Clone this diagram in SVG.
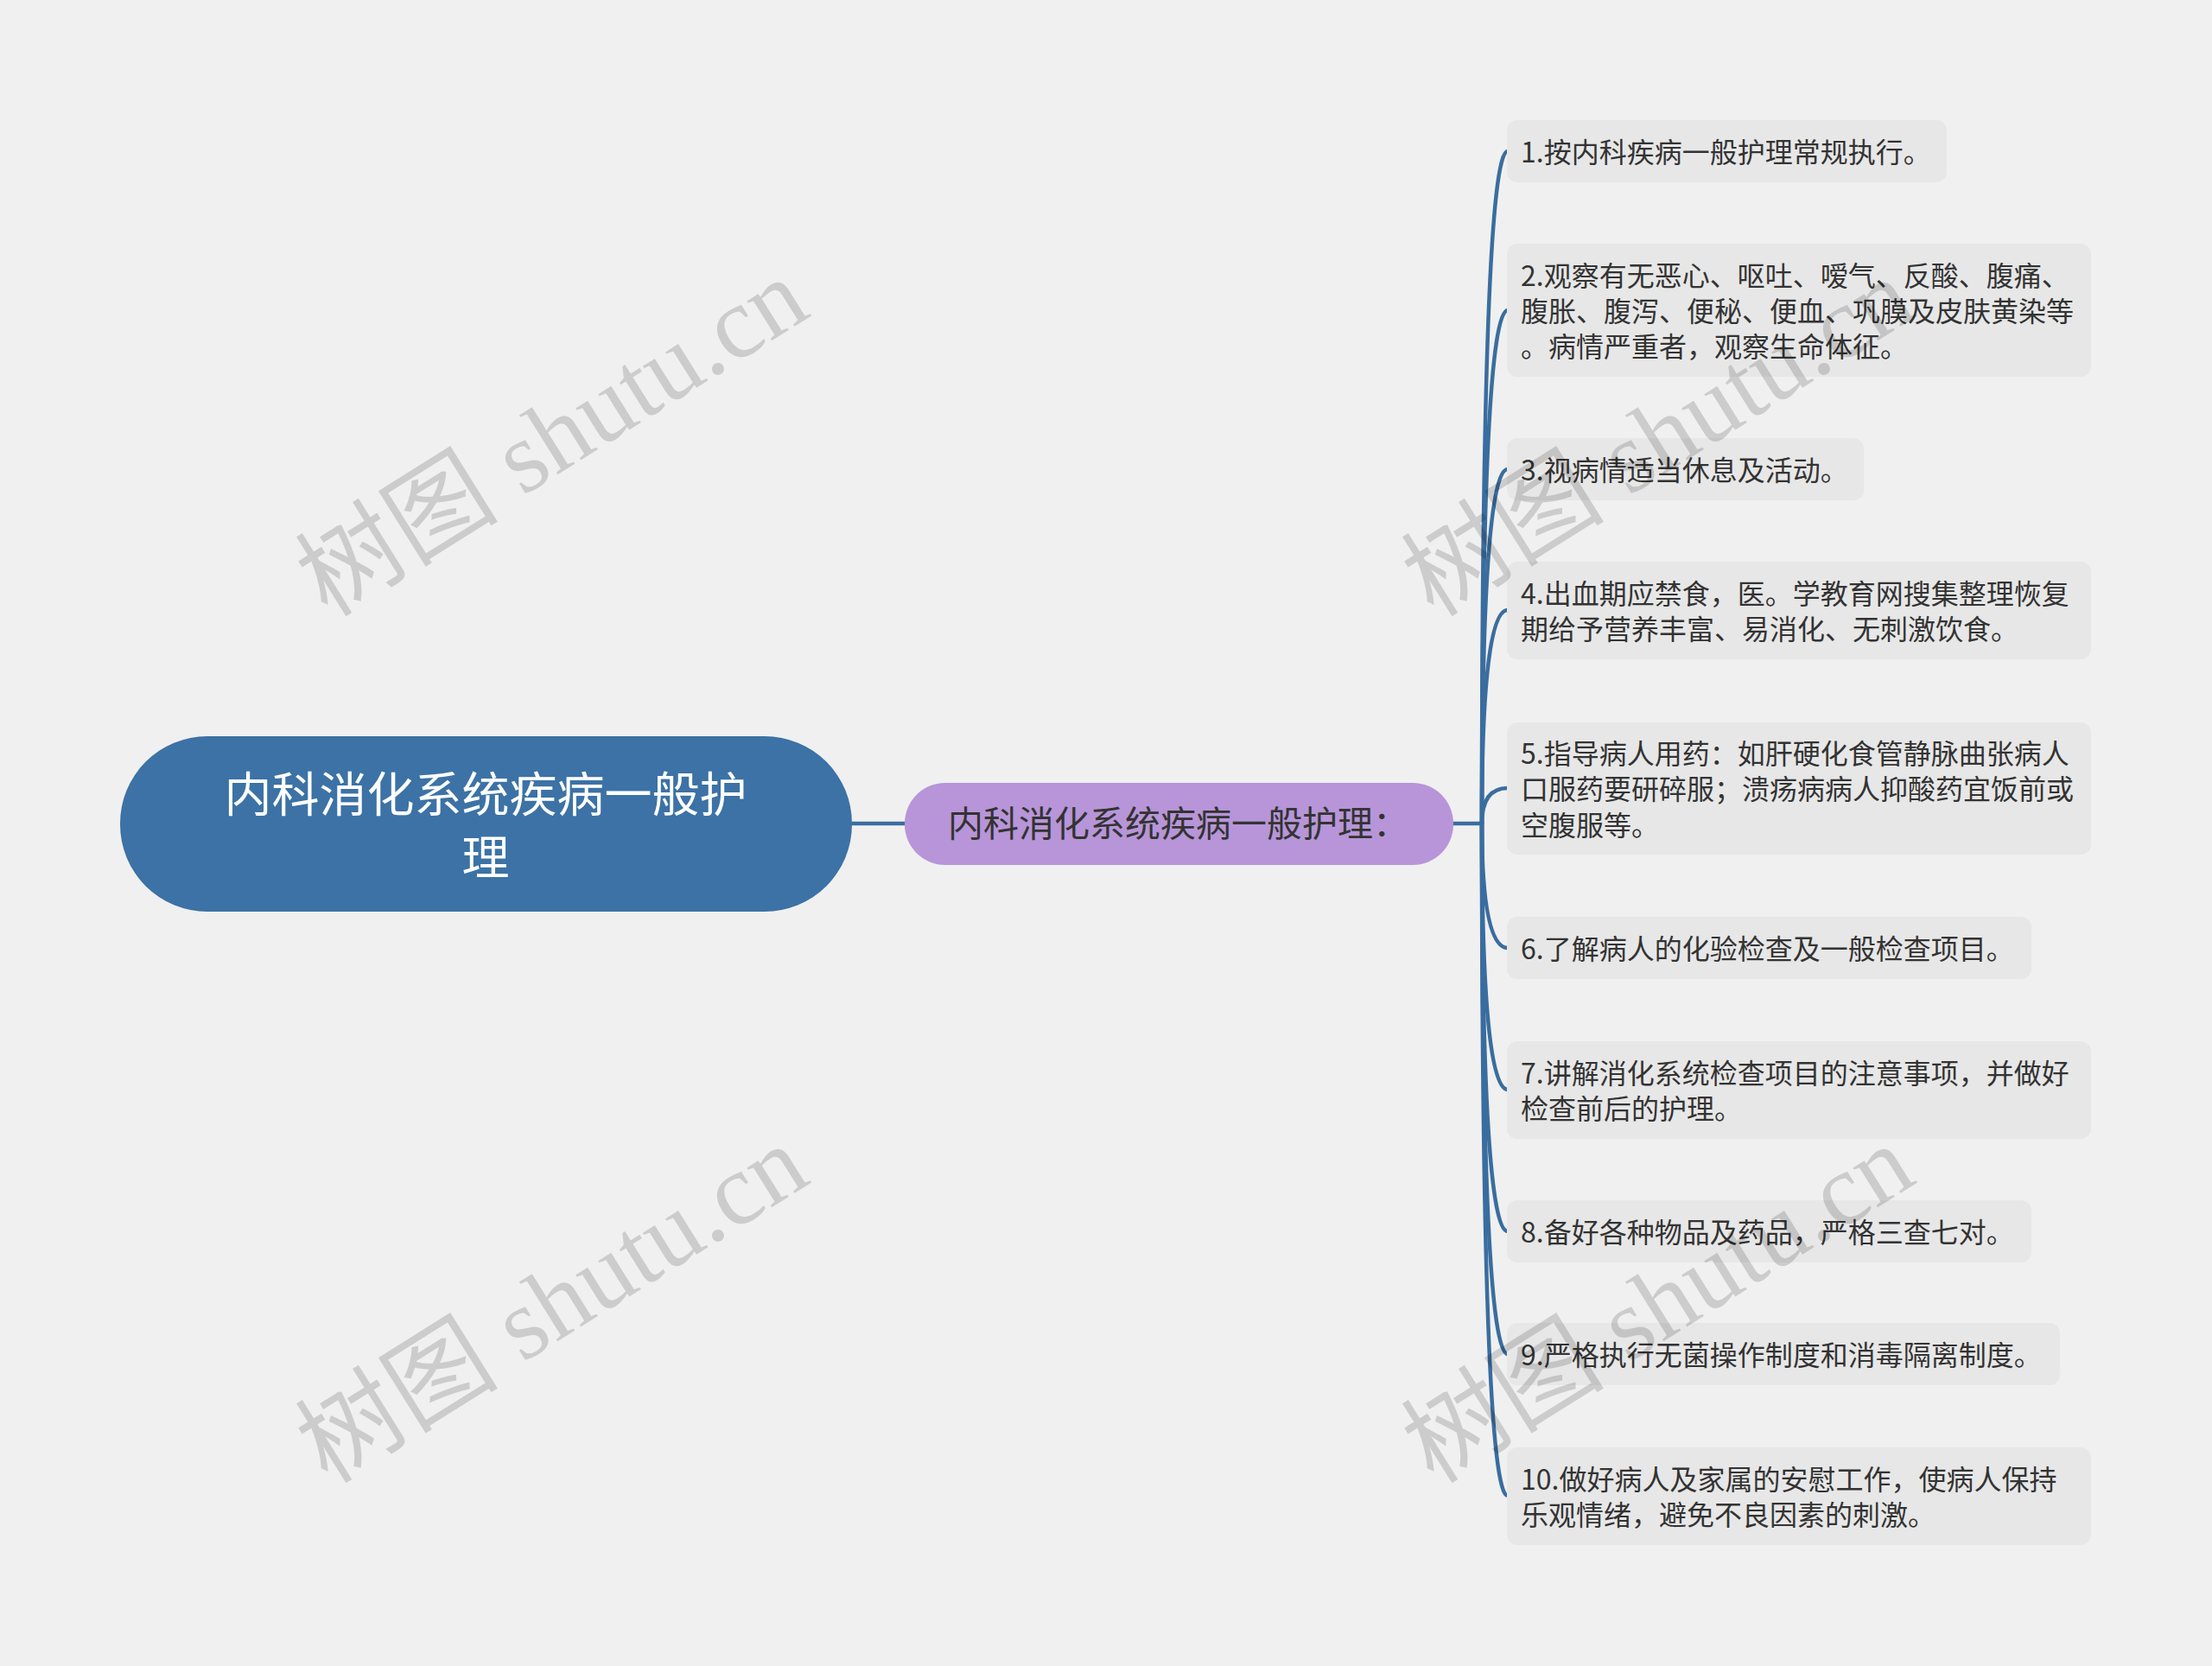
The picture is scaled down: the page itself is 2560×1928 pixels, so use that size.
<svg xmlns="http://www.w3.org/2000/svg" width="2560" height="1928" viewBox="0 0 2560 1928">
<style>
.bg{fill:#f0f0f0}
.conn{fill:none;stroke:#3a6d9f;stroke-width:4.5;stroke-linecap:round}
.leaf{fill:#e7e7e7}
.lt{font-family:"Noto Sans CJK SC","Noto Sans",sans-serif;font-size:32px;fill:#333333}
.rt{font-family:"Noto Sans CJK SC","Noto Sans",sans-serif;font-size:55px;fill:#ffffff;text-anchor:middle}
.st{font-family:"Noto Sans CJK SC","Noto Sans",sans-serif;font-size:41px;fill:#333333}
.wm{font-family:"Liberation Serif","Noto Sans CJK SC",serif;font-size:118px;fill:#000000;fill-opacity:0.15;text-anchor:middle}
</style>
<rect class="bg" x="0" y="0" width="2560" height="1928"/>
<g id="connectors">
<path class="conn" d="M986 953 L1047 953"/>
<path class="conn" d="M1682 953 L1715 953"/>
<path class="conn" d="M1715 953 Q1715 175 1745 175"/>
<path class="conn" d="M1715 953 Q1715 359 1745 359"/>
<path class="conn" d="M1715 953 Q1715 543 1745 543"/>
<path class="conn" d="M1715 953 Q1715 706 1745 706"/>
<path class="conn" d="M1715 953 Q1715 912 1745 912"/>
<path class="conn" d="M1715 953 Q1715 1097 1745 1097"/>
<path class="conn" d="M1715 953 Q1715 1261 1745 1261"/>
<path class="conn" d="M1715 953 Q1715 1425 1745 1425"/>
<path class="conn" d="M1715 953 Q1715 1567 1745 1567"/>
<path class="conn" d="M1715 953 Q1715 1731 1745 1731"/>
</g>
<g id="root">
<rect x="139" y="852" width="847" height="203" rx="101" ry="101" fill="#3c72a5"/>
<text class="rt" x="562" y="939">内科消化系统疾病一般护</text>
<text class="rt" x="562" y="1012">理</text>
</g>
<g id="sub">
<rect x="1047" y="906" width="635" height="95" rx="47" ry="47" fill="#b795d8"/>
<text class="st" x="1097" y="968">内科消化系统疾病一般护理：</text>
</g>
<g id="leaf1">
<rect class="leaf" x="1744" y="139" width="509" height="72" rx="12"/>
<text class="lt" x="1760" y="188">1.按内科疾病一般护理常规执行。</text>
</g>
<g id="leaf2">
<rect class="leaf" x="1744" y="282" width="676" height="154" rx="12"/>
<text class="lt" x="1760" y="331">2.观察有无恶心、呕吐、嗳气、反酸、腹痛、</text>
<text class="lt" x="1760" y="372">腹胀、腹泻、便秘、便血、巩膜及皮肤黄染等</text>
<text class="lt" x="1760" y="413">。病情严重者，观察生命体征。</text>
</g>
<g id="leaf3">
<rect class="leaf" x="1744" y="507" width="413" height="72" rx="12"/>
<text class="lt" x="1760" y="556">3.视病情适当休息及活动。</text>
</g>
<g id="leaf4">
<rect class="leaf" x="1744" y="650" width="676" height="113" rx="12"/>
<text class="lt" x="1760" y="699">4.出血期应禁食，医。学教育网搜集整理恢复</text>
<text class="lt" x="1760" y="740">期给予营养丰富、易消化、无刺激饮食。</text>
</g>
<g id="leaf5">
<rect class="leaf" x="1744" y="836" width="676" height="153" rx="12"/>
<text class="lt" x="1760" y="884">5.指导病人用药：如肝硬化食管静脉曲张病人</text>
<text class="lt" x="1760" y="925">口服药要研碎服；溃疡病病人抑酸药宜饭前或</text>
<text class="lt" x="1760" y="967">空腹服等。</text>
</g>
<g id="leaf6">
<rect class="leaf" x="1744" y="1061" width="607" height="72" rx="12"/>
<text class="lt" x="1760" y="1110">6.了解病人的化验检查及一般检查项目。</text>
</g>
<g id="leaf7">
<rect class="leaf" x="1744" y="1205" width="676" height="113" rx="12"/>
<text class="lt" x="1760" y="1254">7.讲解消化系统检查项目的注意事项，并做好</text>
<text class="lt" x="1760" y="1295">检查前后的护理。</text>
</g>
<g id="leaf8">
<rect class="leaf" x="1744" y="1389" width="607" height="72" rx="12"/>
<text class="lt" x="1760" y="1438">8.备好各种物品及药品，严格三查七对。</text>
</g>
<g id="leaf9">
<rect class="leaf" x="1744" y="1531" width="640" height="72" rx="12"/>
<text class="lt" x="1760" y="1580">9.严格执行无菌操作制度和消毒隔离制度。</text>
</g>
<g id="leaf10">
<rect class="leaf" x="1744" y="1675" width="676" height="113" rx="12"/>
<text class="lt" x="1760" y="1724">10.做好病人及家属的安慰工作，使病人保持</text>
<text class="lt" x="1760" y="1765">乐观情绪，避免不良因素的刺激。</text>
</g>
<g id="watermarks">
<text class="wm" transform="translate(660 540) rotate(-32)">树图 shutu.cn</text>
<text class="wm" transform="translate(1940 540) rotate(-32)">树图 shutu.cn</text>
<text class="wm" transform="translate(660 1543) rotate(-32)">树图 shutu.cn</text>
<text class="wm" transform="translate(1940 1543) rotate(-32)">树图 shutu.cn</text>
</g>
</svg>
